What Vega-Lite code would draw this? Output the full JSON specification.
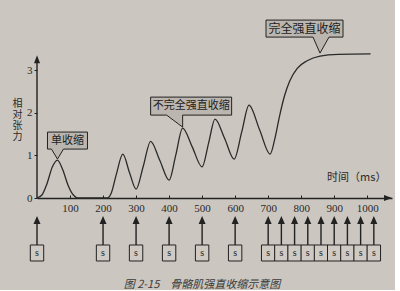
{
  "$schema": "https://vega.github.io/schema/vega-lite/v6.json",
  "background": "#cbc6bf",
  "padding": {"left": 12, "top": 18, "right": 3, "bottom": 0},
  "spacing": 0,
  "title": {"text": "图 2-15　骨骼肌强直收缩示意图", "orient": "bottom", "anchor": "middle", "font": "Noto Sans CJK SC", "fontSize": 11, "fontStyle": "italic", "fontWeight": "normal", "color": "#3a3a3a", "offset": 14},
  "config": {
    "view": {"stroke": null},
    "axis": {"grid": false},
    "axisX": {"labelOverlap": false, "labelFont": "Liberation Serif", "labelFontSize": 11, "labelColor": "#2a2a2a", "domainColor": "#222", "domainWidth": 1.4, "tickColor": "#222", "tickSize": -3, "labelPadding": 7, "labelFlush": false},
    "axisY": {"labelOverlap": false, "labelFont": "Liberation Serif", "labelFontSize": 11, "labelColor": "#2a2a2a", "domain": false, "tickColor": "#222", "tickSize": 3, "labelPadding": 2}
  },
  "datasets": {
    "tension": [
      {"t":0,"v":0},{"t":15,"v":0.07},{"t":30,"v":0.33},{"t":46,"v":0.72},{"t":62,"v":0.89},{"t":78,"v":0.66},{"t":94,"v":0.3},{"t":110,"v":0.07},{"t":125,"v":0},
      {"t":212,"v":0},{"t":225,"v":0.12},{"t":240,"v":0.55},{"t":260,"v":1.03},{"t":280,"v":0.6},{"t":300,"v":0.21},
      {"t":322,"v":0.75},{"t":344,"v":1.33},{"t":372,"v":0.88},{"t":400,"v":0.42},
      {"t":420,"v":1.0},{"t":441,"v":1.64},{"t":470,"v":1.2},{"t":500,"v":0.73},
      {"t":520,"v":1.3},{"t":539,"v":1.85},{"t":568,"v":1.4},{"t":597,"v":0.91},
      {"t":620,"v":1.55},{"t":642,"v":2.18},{"t":674,"v":1.6},{"t":706,"v":1.03},
      {"t":720,"v":1.38},{"t":735,"v":1.94},{"t":750,"v":2.41},{"t":765,"v":2.74},{"t":788,"v":3.04},{"t":818,"v":3.22},{"t":857,"v":3.33},{"t":912,"v":3.37},{"t":1010,"v":3.38}
    ],
    "callouts": [
      {"label":"单收缩","t":62,"v":0.89},
      {"label":"不完全强直收缩","t":441,"v":1.64},
      {"label":"完全强直收缩","t":857,"v":3.33}
    ],
    "stimuli": [
      {"t":0},{"t":200},{"t":300},{"t":400},{"t":500},{"t":600},
      {"t":700},{"t":740},{"t":780},{"t":820},{"t":860},{"t":900},{"t":940},{"t":980},{"t":1020}
    ]
  },
  "vconcat": [
    {
      "width": 355,
      "height": 179,
      "layer": [
        {
          "data": {"name": "tension"},
          "mark": {"type": "line", "interpolate": "monotone", "color": "#2a2a2a", "strokeWidth": 1.3},
          "encoding": {
            "x": {"field": "t", "type": "quantitative", "scale": {"domain": [0, 1075], "nice": false},
              "axis": {"title": null, "values": [100,200,300,400,500,600,700,800,900,1000], "tickCount": 20, "format": "d", "labelOverlap": false}},
            "y": {"field": "v", "type": "quantitative", "scale": {"domain": [0, 4.2], "nice": false},
              "axis": {"title": ["相","对","张","力"], "titleFont": "Noto Sans CJK SC", "titleFontSize": 10, "titleLineHeight": 11, "titleFontWeight": "normal", "titleColor": "#2a2a2a", "titleAngle": 0, "titleAlign": "center", "titleBaseline": "top", "titleX": -20, "titleY": 79, "values": [0,1,2,3], "format": "d"}}
          }
        },
        {
          "data": {"values": [{}]},
          "mark": {"type": "rule", "color": "#222", "strokeWidth": 1.4},
          "encoding": {"x": {"datum": 0}, "y": {"datum": 0}, "y2": {"datum": 3.25}}
        },
        {
          "data": {"values": [{}]},
          "mark": {"type": "point", "shape": "M0,0L3,8L-3,8Z", "size": 4, "filled": true, "color": "#222", "opacity": 1},
          "encoding": {"x": {"datum": 0}, "y": {"datum": 3.35}}
        },
        {
          "data": {"values": [{}]},
          "mark": {"type": "point", "shape": "M0,0L-8,-3L-8,3Z", "size": 4, "filled": true, "color": "#222", "opacity": 1},
          "encoding": {"x": {"datum": 1075}, "y": {"datum": 0}}
        },
        {
          "data": {"values": [{"label": "时间（ms）"}]},
          "mark": {"type": "text", "align": "right", "baseline": "middle", "font": "Noto Sans CJK SC", "fontSize": 11, "color": "#2a2a2a"},
          "encoding": {"x": {"datum": 1058}, "y": {"datum": 0.47}, "text": {"field": "label"}}
        },
        {
          "data": {"name": "callouts"},
          "transform": [{"filter": "datum.label === '单收缩'"}],
          "mark": {"type": "point", "shape": "M-10,-28H30V-11H6L0,-1L-6,-11H-10Z", "size": 4, "filled": true, "fill": "#bbb6af", "stroke": "#222", "strokeWidth": 1, "opacity": 1},
          "encoding": {"x": {"field": "t", "type": "quantitative"}, "y": {"field": "v", "type": "quantitative"}}
        },
        {
          "data": {"name": "callouts"},
          "transform": [{"filter": "datum.label === '单收缩'"}],
          "mark": {"type": "text", "dx": 10, "dy": -19.5, "baseline": "middle", "align": "center", "font": "Noto Sans CJK SC", "fontSize": 11, "color": "#1e1e1e"},
          "encoding": {"x": {"field": "t", "type": "quantitative"}, "y": {"field": "v", "type": "quantitative"}, "text": {"field": "label"}}
        },
        {
          "data": {"name": "callouts"},
          "transform": [{"filter": "datum.label === '不完全强直收缩'"}],
          "mark": {"type": "point", "shape": "M-32,-31H49V-13H0V-1L-16,-13H-32Z", "size": 4, "filled": true, "fill": "#bbb6af", "stroke": "#222", "strokeWidth": 1, "opacity": 1},
          "encoding": {"x": {"field": "t", "type": "quantitative"}, "y": {"field": "v", "type": "quantitative"}}
        },
        {
          "data": {"name": "callouts"},
          "transform": [{"filter": "datum.label === '不完全强直收缩'"}],
          "mark": {"type": "text", "dx": 8.5, "dy": -22, "baseline": "middle", "align": "center", "font": "Noto Sans CJK SC", "fontSize": 11, "color": "#1e1e1e"},
          "encoding": {"x": {"field": "t", "type": "quantitative"}, "y": {"field": "v", "type": "quantitative"}, "text": {"field": "label"}}
        },
        {
          "data": {"name": "callouts"},
          "transform": [{"filter": "datum.label === '完全强直收缩'"}],
          "mark": {"type": "point", "shape": "M-54,-36H23V-19H9L0,-3L-7,-19H-54Z", "size": 4, "filled": true, "fill": "#bbb6af", "stroke": "#222", "strokeWidth": 1, "opacity": 1},
          "encoding": {"x": {"field": "t", "type": "quantitative"}, "y": {"field": "v", "type": "quantitative"}}
        },
        {
          "data": {"name": "callouts"},
          "transform": [{"filter": "datum.label === '完全强直收缩'"}],
          "mark": {"type": "text", "dx": -15.5, "dy": -27.5, "baseline": "middle", "align": "center", "font": "Noto Sans CJK SC", "fontSize": 12, "color": "#1e1e1e"},
          "encoding": {"x": {"field": "t", "type": "quantitative"}, "y": {"field": "v", "type": "quantitative"}, "text": {"field": "label"}}
        }
      ]
    },
    {
      "width": 355,
      "height": 52,
      "data": {"name": "stimuli"},
      "encoding": {
        "x": {"field": "t", "type": "quantitative", "scale": {"domain": [0, 1075], "nice": false}, "axis": null}
      },
      "layer": [
        {
          "mark": {"type": "point", "shape": "M0,-4L3.5,4H0.7V25H-0.7V4H-3.5Z", "size": 4, "filled": true, "color": "#222", "opacity": 1},
          "encoding": {"y": {"datum": 0.865, "scale": {"domain": [0, 1]}, "axis": null}}
        },
        {
          "mark": {"type": "point", "shape": "M-6.7,-8H6.7V8H-6.7Z", "size": 4, "filled": true, "fill": "#cfcac3", "stroke": "#222", "strokeWidth": 1, "opacity": 1},
          "encoding": {"y": {"datum": 0.2308, "scale": {"domain": [0, 1]}, "axis": null}}
        },
        {
          "mark": {"type": "text", "text": "s", "baseline": "middle", "align": "center", "font": "Liberation Serif", "fontSize": 10, "color": "#222"},
          "encoding": {"y": {"datum": 0.2308, "scale": {"domain": [0, 1]}, "axis": null}}
        }
      ]
    }
  ]
}
